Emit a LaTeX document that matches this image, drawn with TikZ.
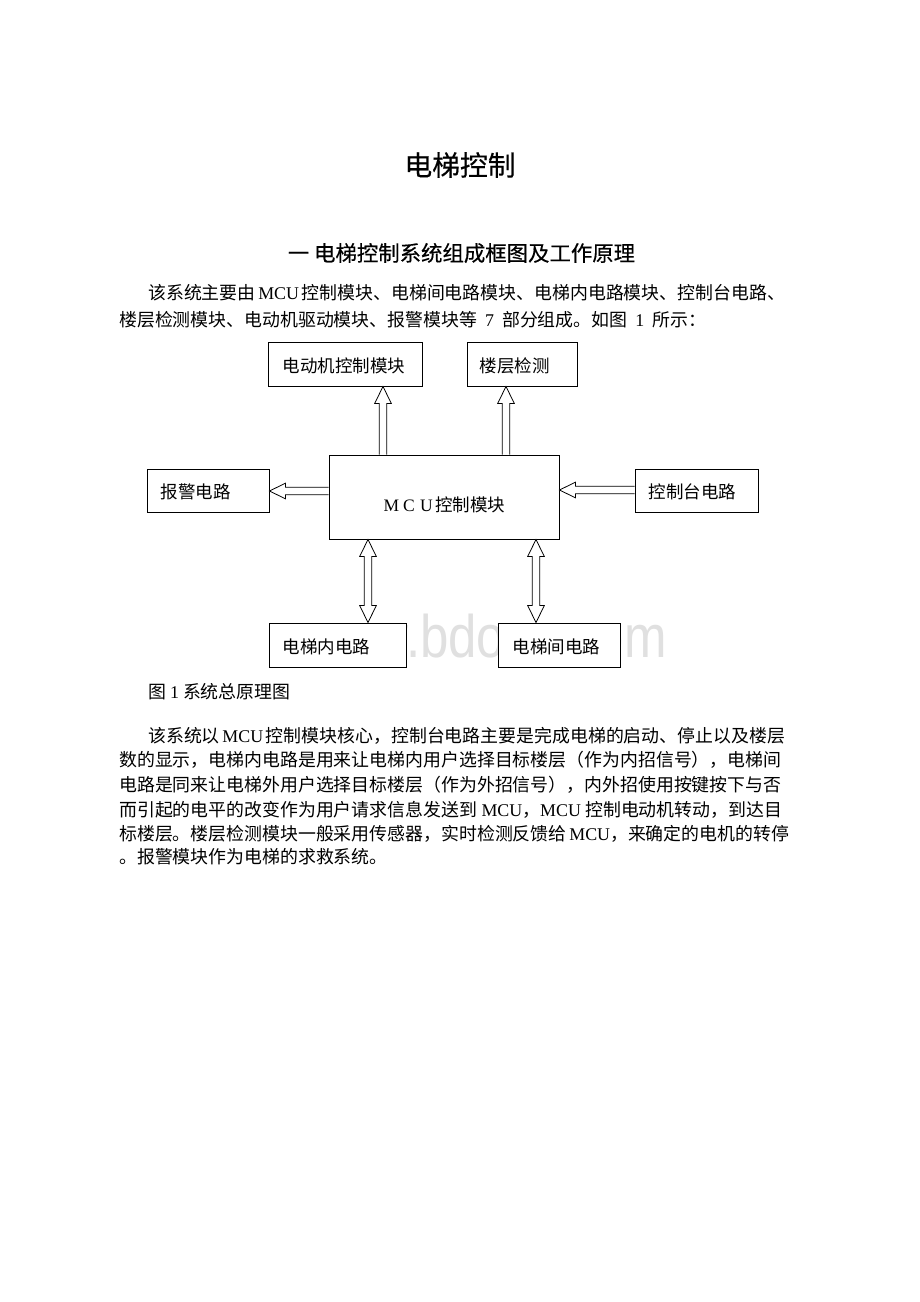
\documentclass[tikz,border=0pt]{standalone}
\usepackage{fontspec}
\setmainfont{Liberation Serif}
\newfontfamily\cjk{Noto Sans CJK SC}
\newfontfamily\hei[FakeBold=0.4]{Noto Sans CJK SC}
\newfontfamily\wmfont{Liberation Sans}
\usetikzlibrary{calc}
\XeTeXlinebreaklocale "zh"
\XeTeXlinebreakskip=0pt plus 2pt minus 0.6pt
\newcommand\lat[1]{{\rmfamily #1}}
\newcommand\bodyfont{\cjk\fontsize{17.9pt}{24pt}\selectfont}
\newcommand\boxfont{\cjk\fontsize{17.5pt}{20pt}\selectfont}
\newcommand\ArrUp[2]{%
  \draw[arrowline] ($(#2)+(-3.75,0)$) -- ($(#1)+(-3.75,17)$) -- ($(#1)+(-8.3,17)$) -- (#1)
    -- ($(#1)+(8.3,17)$) -- ($(#1)+(3.75,17)$) -- ($(#2)+(3.75,0)$);}
\newcommand\ArrLeft[2]{%
  \draw[arrowline] ($(#2)+(0,-3.75)$) -- ($(#1)+(16,-3.75)$) -- ($(#1)+(16,-7.8)$) -- (#1)
    -- ($(#1)+(16,7.8)$) -- ($(#1)+(16,3.75)$) -- ($(#2)+(0,3.75)$);}
\newcommand\ArrBoth[2]{%
  \draw[arrowline] (#1) -- ($(#1)+(8.3,17)$) -- ($(#1)+(3.75,17)$) -- ($(#2)+(3.75,-17)$)
    -- ($(#2)+(8.3,-17)$) -- (#2) -- ($(#2)+(-8.3,-17)$) -- ($(#2)+(-3.75,-17)$)
    -- ($(#1)+(-3.75,17)$) -- ($(#1)+(-8.3,17)$) -- cycle;}
\tikzset{
  box/.style={draw=black, line width=0.9pt, fill=white, inner sep=0pt},
  boxtext/.style={anchor=west, inner sep=0pt, font=\boxfont},
  bodyline/.style={anchor=west, inner sep=0pt, font=\bodyfont},
  arrowline/.style={draw=black, line width=0.8pt, fill=white, line join=miter},
}
\begin{document}
\begin{tikzpicture}[x=1pt, y=-1pt]
\useasboundingbox (0,0) rectangle (920,1302);
\fill[white] (0,0) rectangle (920,1302);

% titles
\node[inner sep=0pt] (title) at (460,165) {\hei\fontsize{27.8pt}{30pt}\selectfont 电梯控制};
\node[inner sep=0pt] (heading) at (461.5,253) {\hei\fontsize{21.4pt}{24pt}\selectfont 一 电梯控制系统组成框图及工作原理};

% paragraph 1
\node[bodyline] (p1a) at (148,293) {\makebox[634pt][s]{该系统主要由 \lat{MCU} 控制模块、电梯间电路模块、电梯内电路模块、控制台电路、}};
\node[bodyline] (p1b) at (119,320) {楼层检测模块、电动机驱动模块、报警模块等\hspace{8pt}\lat{7}\hspace{8pt}部分组成。如图\hspace{8pt}\lat{1}\hspace{8pt}所示：};

% watermark (behind the boxes)
\node[anchor=base east, inner sep=0pt, text=black!12, font=\wmfont\fontsize{60pt}{60pt}\selectfont] (wm) at (667,657) {\scalebox{0.85}[1]{www.bdocx.com}};

% boxes
\node[box, minimum width=154pt, minimum height=44pt] (motor) at (345,364) {};
\node[box, minimum width=110pt, minimum height=44pt] (floor) at (522,364) {};
\node[box, minimum width=230pt, minimum height=84pt] (mcu) at (444,497) {};
\node[box, minimum width=122pt, minimum height=43pt] (alarm) at (208,490.5) {};
\node[box, minimum width=123pt, minimum height=43pt] (console) at (696.5,490.5) {};
\node[box, minimum width=137pt, minimum height=44pt] (inner) at (337.5,645) {};
\node[box, minimum width=122pt, minimum height=44pt] (outer) at (559,645) {};

% box texts
\node[boxtext] (motort) at ([xshift=15pt,yshift=-2pt]motor.west) {电动机控制模块};
\node[boxtext] (floort) at ([xshift=13pt,yshift=-2pt]floor.west) {楼层检测};
\node[boxtext] (alarmt) at ([xshift=14pt,yshift=-1pt]alarm.west) {报警电路};
\node[boxtext] (consolet) at ([xshift=14pt,yshift=-1pt]console.west) {控制台电路};
\node[boxtext] (innert) at ([xshift=14pt,yshift=-2pt]inner.west) {电梯内电路};
\node[boxtext] (outert) at ([xshift=15pt,yshift=-2pt]outer.west) {电梯间电路};
\node[boxtext, anchor=center] (mcut) at ([yshift=-8pt]mcu.center) {\makebox[1em]{\lat{M}}\makebox[1em]{\lat{C}}\makebox[1em]{\lat{U}}控制模块};

% connectors
\coordinate (u1tip) at (383,0 |- motor.south);
\coordinate (u1tail) at (383,0 |- mcu.north);
\coordinate (u2tip) at (506,0 |- floor.south);
\coordinate (u2tail) at (506,0 |- mcu.north);
\coordinate (l1tip) at (alarm.east |- 0,491);
\coordinate (l1tail) at (mcu.west |- 0,491);
\coordinate (l2tip) at (mcu.east |- 0,490);
\coordinate (l2tail) at (console.west |- 0,490);
\coordinate (d1top) at (368,0 |- mcu.south);
\coordinate (d1bot) at (368,0 |- inner.north);
\coordinate (d2top) at (536,0 |- mcu.south);
\coordinate (d2bot) at (536,0 |- outer.north);
\ArrUp{u1tip}{u1tail}
\ArrUp{u2tip}{u2tail}
\ArrLeft{l1tip}{l1tail}
\ArrLeft{l2tip}{l2tail}
\ArrBoth{d1top}{d1bot}
\ArrBoth{d2top}{d2bot}

% caption and paragraph 2
\node[bodyline] (cap) at (148,692) {图 \lat{1} 系统总原理图};
\node[bodyline] (p2a) at (148,736) {\makebox[634pt][s]{该系统以 \lat{MCU} 控制模块核心，控制台电路主要是完成电梯的启动、停止以及楼层}};
\node[bodyline] (p2b) at (119,760) {\makebox[663pt][s]{数的显示，电梯内电路是用来让电梯内用户选择目标楼层（作为内招信号），电梯间}};
\node[bodyline] (p2c) at (119,785) {\makebox[663pt][s]{电路是同来让电梯外用户选择目标楼层（作为外招信号），内外招使用按键按下与否}};
\node[bodyline] (p2d) at (119,810) {\makebox[663pt][s]{而引起的电平的改变作为用户请求信息发送到 \lat{MCU}，\lat{MCU} 控制电动机转动，到达目}};
\node[bodyline] (p2e) at (119,834) {\makebox[663pt][s]{标楼层。楼层检测模块一般采用传感器，实时检测反馈给 \lat{MCU}，来确定的电机的转停}};
\node[bodyline] (p2f) at (119,857) {。报警模块作为电梯的求救系统。};
\end{tikzpicture}
\end{document}
